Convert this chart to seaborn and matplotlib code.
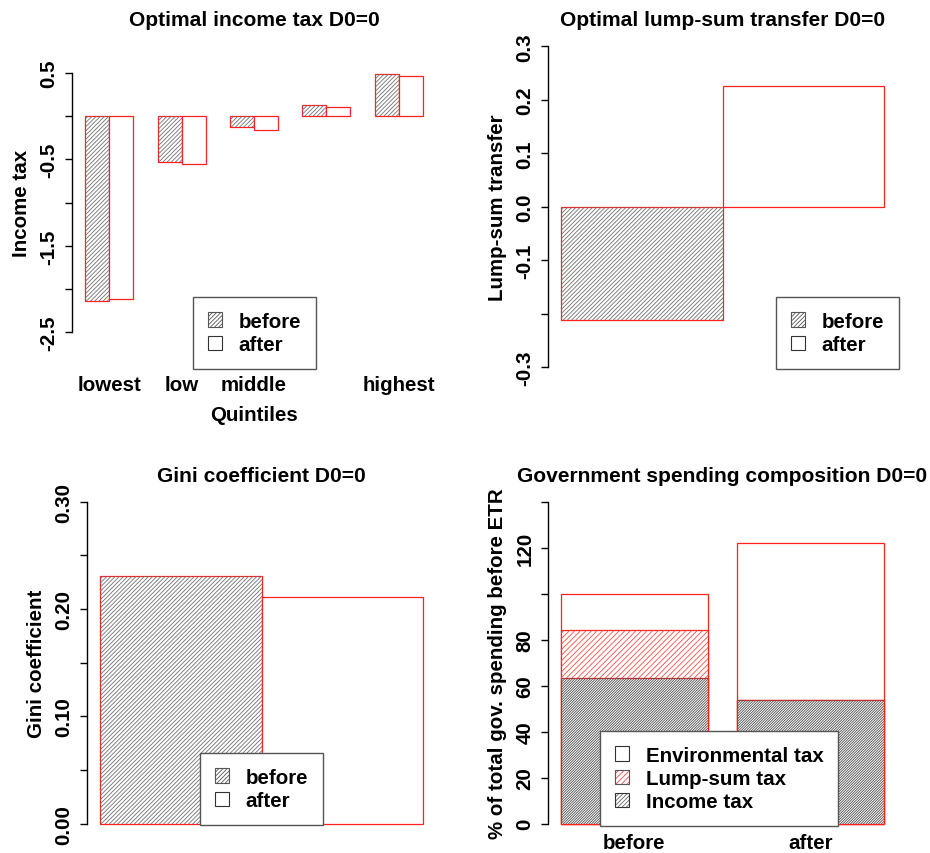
import pandas as pd
import seaborn as sns
import matplotlib.pyplot as plt
from matplotlib.patches import Rectangle, Patch

# data
quintiles = ["lowest", "low", "middle", "high", "highest"]
quintile_labels = ["lowest", "low", "middle", "", "highest"]
periods = ["before", "after"]
tax_before = [-2.14, -0.53, -0.12, 0.135, 0.49]
tax_after = [-2.12, -0.55, -0.16, 0.11, 0.465]
transfer = [-0.212, 0.225]
gini = [0.231, 0.211]
income_share = [63.2, 53.9]
lumpsum_share = [21.1, 0.0]
env_share = [15.7, 68.3]
spend_parts = ["Environmental tax", "Lump-sum tax", "Income tax"]

tax_ticks = [-2.5, -2.0, -1.5, -1.0, -0.5, 0.0, 0.5]
tax_ticklabels = ["-2.5", "", "-1.5", "", "-0.5", "", "0.5"]
transfer_ticks = [-0.3, -0.2, -0.1, 0.0, 0.1, 0.2, 0.3]
transfer_ticklabels = ["-0.3", "", "-0.1", "0.0", "0.1", "0.2", "0.3"]
gini_ticks = [0.0, 0.05, 0.10, 0.15, 0.20, 0.25, 0.30]
gini_ticklabels = ["0.00", "", "0.10", "", "0.20", "", "0.30"]
spend_ticks = [0, 20, 40, 60, 80, 100, 120, 140]
spend_ticklabels = ["0", "20", "40", "60", "80", "", "120", ""]

sns.set_style("white")
plt.rcParams["font.family"] = ["Liberation Sans", "DejaVu Sans"]
plt.rcParams["font.weight"] = "bold"
plt.rcParams["hatch.linewidth"] = 0.6
for key in ["text.color", "axes.labelcolor", "xtick.color", "ytick.color"]:
    plt.rcParams[key] = "black"

W, H = 930, 854
FS = 14.8
RED = "#ff2020"
GREY = "#555555"
HATCH_GREY = "#707070"
FINE = "////////"          # ~4 px line spacing
RED_HATCH = "//////"
DENSE = "/////////////"

fig = plt.figure(figsize=(W / 100, H / 100), dpi=100)


def px_rect(left, right, top, bottom):
    return [left / W, 1 - bottom / H, (right - left) / W, (bottom - top) / H]


def style_axis(ax, ticks, labels, bounds, ylabel, title, title_pad, width_px):
    for s in ["top", "right", "bottom"]:
        ax.spines[s].set_visible(False)
    ax.spines["left"].set_bounds(*bounds)
    ax.spines["left"].set_linewidth(1.0)
    ax.spines["left"].set_color("black")
    ax.set_yticks(ticks, labels)
    ax.tick_params(axis="y", left=True, length=4.8, width=1.0, pad=4.8,
                   labelsize=FS, labelrotation=90, colors="black")
    for t in ax.get_yticklabels():
        t.set_va("center")
    ax.set_ylabel(ylabel, fontsize=FS, fontweight="bold", color="black")
    ax.yaxis.label.set_verticalalignment("center")
    ax.yaxis.set_label_coords(-50 / width_px, 0.5)
    ax.set_title(title, fontsize=15.1, fontweight="bold", pad=title_pad, color="black")
    ax.grid(False)


def hatch_over(ax, bar, pattern, color, z):
    ax.add_patch(Rectangle(bar.get_xy(), bar.get_width(), bar.get_height(),
                           fill=False, hatch=pattern, edgecolor=color,
                           linewidth=0, zorder=z))


def add_legend(ax, handles, labels, x, y):
    leg = ax.legend(handles, labels, loc="upper left",
                    bbox_to_anchor=(x / W, 1 - y / H), bbox_transform=fig.transFigure,
                    borderaxespad=0, prop={"weight": "bold", "size": FS},
                    handlelength=0.7, handleheight=0.7, handletextpad=0.8,
                    borderpad=0.72, labelspacing=0.2, fancybox=False,
                    framealpha=1, edgecolor=GREY, labelcolor="black")
    leg.get_frame().set_linewidth(1.0)
    leg.set_zorder(20)
    return leg


before_handle = Patch(facecolor="white", edgecolor=GREY, hatch=FINE, linewidth=0.8)
after_handle = Patch(facecolor="white", edgecolor="#333333", linewidth=0.8)

# ---- panel 1: optimal income tax
ax1 = fig.add_axes(px_rect(71.8, 436.2, 63.6, 343.7))
tax_df = pd.DataFrame({
    "quintile": quintiles * 2,
    "period": ["before"] * 5 + ["after"] * 5,
    "value": tax_before + tax_after,
})
sns.barplot(data=tax_df, x="quintile", y="value", hue="period", order=quintiles,
            hue_order=periods, palette={"before": "white", "after": "white"},
            width=2 / 3, gap=0, saturation=1, edgecolor=RED, linewidth=0.9,
            errorbar=None, legend=False, ax=ax1)
for bar in ax1.containers[0]:
    hatch_over(ax1, bar, FINE, HATCH_GREY, 3)
ax1.set_xlim(-0.52, 4.52)
ax1.set_ylim(-2.62, 0.62)
style_axis(ax1, tax_ticks, tax_ticklabels, (-2.5, 0.5), "Income tax",
           "Optimal income tax D0=0", 27.1, 436.2 - 71.8)
ax1.set_xticks(range(len(quintiles)), quintile_labels)
ax1.tick_params(axis="x", length=0, pad=23.5, labelsize=FS)
ax1.set_xlabel("Quintiles", fontsize=FS, fontweight="bold")
ax1.xaxis.label.set_verticalalignment("top")
ax1.xaxis.set_label_coords(0.5, -0.224)
add_legend(ax1, [before_handle, after_handle], periods, 193, 298)

# ---- panel 2: lump-sum transfer
ax2 = fig.add_axes(px_rect(547.8, 897.2, 34.5, 381.1))
sns.barplot(x=periods, y=transfer, order=periods, color="white", width=1,
            saturation=1, edgecolor=RED, linewidth=0.9, errorbar=None, ax=ax2)
hatch_over(ax2, ax2.patches[0], FINE, HATCH_GREY, 3)
ax2.set_xlim(-0.58, 1.58)
ax2.set_ylim(-0.324, 0.324)
style_axis(ax2, transfer_ticks, transfer_ticklabels, (-0.3, 0.3), "Lump-sum transfer",
           "Optimal lump-sum transfer D0=0", 6.1, 897.2 - 547.8)
ax2.set_xticks([])
add_legend(ax2, [before_handle, after_handle], periods, 776, 298)

# ---- panel 3: Gini coefficient
ax3 = fig.add_axes(px_rect(86.8, 436.3, 489.8, 837.6))
sns.barplot(x=periods, y=gini, order=periods, color="white", width=1,
            saturation=1, edgecolor=RED, linewidth=0.9, errorbar=None, ax=ax3)
hatch_over(ax3, ax3.patches[0], FINE, HATCH_GREY, 3)
ax3.set_xlim(-0.58, 1.58)
ax3.set_ylim(-0.012, 0.312)
style_axis(ax3, gini_ticks, gini_ticklabels, (0, 0.3), "Gini coefficient",
           "Gini coefficient D0=0", 5.8, 436.3 - 86.8)
ax3.set_xticks([])
add_legend(ax3, [before_handle, after_handle], periods, 200, 754)

# ---- panel 4: government spending composition (stacked)
ax4 = fig.add_axes(px_rect(547.8, 897.2, 489.8, 837.6))
total = [i + l + e for i, l, e in zip(income_share, lumpsum_share, env_share)]
inc_lump = [i + l for i, l in zip(income_share, lumpsum_share)]
layers = [(total, None, None), (inc_lump, RED_HATCH, "#ff4a4a"), (income_share, DENSE, "#505050")]
for k, (heights, pattern, hcolor) in enumerate(layers):
    n_before = len(ax4.patches)
    sns.barplot(x=periods, y=heights, order=periods, color="white", width=1 / 1.2,
                saturation=1, edgecolor=RED, linewidth=0.9, errorbar=None, ax=ax4)
    new_bars = ax4.patches[n_before:n_before + len(periods)]
    for bar in new_bars:
        bar.set_zorder(1 + 2 * k)
    if pattern:
        for bar in new_bars:
            hatch_over(ax4, bar, pattern, hcolor, 1.5 + 2 * k)
ax4.set_xlim(-0.49, 1.49)
ax4.set_ylim(-5.6, 145.6)
style_axis(ax4, spend_ticks, spend_ticklabels, (0, 140),
           "% of total gov. spending before ETR",
           "Government spending composition D0=0", 5.8, 897.2 - 547.8)
ax4.set_xticks(range(len(periods)), periods)
ax4.tick_params(axis="x", length=0, pad=-2.8, labelsize=FS)
ax4.set_xlabel("")
env_handle = Patch(facecolor="white", edgecolor="#333333", linewidth=0.8)
lump_handle = (Patch(facecolor="white", edgecolor="#ff4a4a", hatch=RED_HATCH, linewidth=0),
               Patch(fill=False, edgecolor=GREY, linewidth=0.8))
inc_handle = (Patch(facecolor="white", edgecolor="#666666", hatch=FINE, linewidth=0),
              Patch(fill=False, edgecolor="#333333", linewidth=0.8))
add_legend(ax4, [env_handle, lump_handle, inc_handle], spend_parts, 600, 732)

fig.savefig("out.png", dpi=100)
